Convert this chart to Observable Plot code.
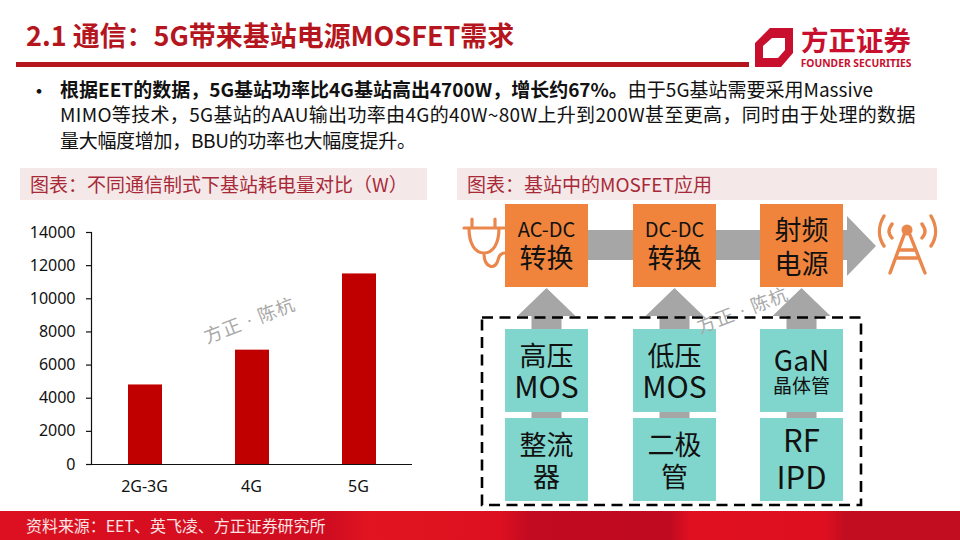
<!DOCTYPE html>
<html><head><meta charset="utf-8">
<script src="https://cdn.jsdelivr.net/npm/d3@7"></script>
<script src="https://cdn.jsdelivr.net/npm/@observablehq/plot@0.6"></script>
<style>
html,body{margin:0;padding:0;background:#fff}
#slide{position:relative;width:960px;height:540px;overflow:hidden;background:#fff;font-family:"Noto Sans CJK SC","Noto Sans",sans-serif;color:#111}
.abs{position:absolute;white-space:nowrap}
.title{left:26px;top:17px;font-size:27px;font-weight:700;color:#B5161E;line-height:36px;letter-spacing:-.03px}
.rule{left:16px;top:62px;width:733px;height:5px;background:#B5161E}
.line{left:60px;font-size:19px;line-height:24px;color:#111}
.bullet{left:28px;top:77px;font-size:22px;line-height:24px}
.hdr{top:168px;height:32px;background:#F5E8E8;color:#A82A38;font-size:19px;line-height:32px;padding-left:10px;box-sizing:border-box}
.box{position:absolute;width:83px;height:83px;display:flex;flex-direction:column;align-items:center;justify-content:center;color:#111;text-align:center;box-sizing:border-box}
.box span{display:block;white-space:nowrap}
.foot{left:0;top:511px;width:960px;height:29px;background:linear-gradient(90deg,#DC1020 0,#D00C20 330px,#E21420 370px,#DC1020 500px,#C20A20 530px,#C00A20 670px,#E01020 690px,#DE1020 825px,#C20C20 845px,#C20C20 1000px)}
.foottext{left:26px;top:511px;line-height:29px;font-size:16px;color:#FBE3E3;letter-spacing:-.05px}
.wm{color:#a9a9a9;font-size:18.5px;transform:rotate(-21deg);font-family:"Liberation Serif","Noto Sans CJK SC",serif;letter-spacing:1px}
#chart{position:absolute;left:1px;top:215px}
svg{display:block}
</style></head>
<body>
<div id="slide">
  <div class="abs title">2.1 通信：5G带来基站电源MOSFET需求</div>
  <div class="abs rule"></div>
  <svg class="abs" style="left:750px;top:15px" width="180" height="60" viewBox="750 15 180 60">
    <path fill="#C8102E" fill-rule="evenodd" d="M770 28H793V53L781 67H755V43ZM772 38L763 46V58H778L785 50V38Z"/>
    <text x="856" y="51" text-anchor="middle" font-size="27.5" font-weight="700" fill="#C8102E" font-family="Noto Sans CJK SC">方正证券</text>
    <text x="856" y="67" text-anchor="middle" font-size="10.3" font-weight="700" fill="#C8102E" font-family="Noto Sans">FOUNDER SECURITIES</text>
  </svg>
  <div class="abs bullet">•</div>
  <div class="abs line" style="top:77px;letter-spacing:0"><b>根据EET的数据，5G基站功率比4G基站高出4700W，增长约67%。</b>由于5G基站需要采用Massive</div>
  <div class="abs line" style="top:102px;letter-spacing:.33px">MIMO等技术，5G基站的AAU输出功率由4G的40W~80W上升到200W甚至更高，同时由于处理的数据</div>
  <div class="abs line" style="top:128px;letter-spacing:-.3px">量大幅度增加，BBU的功率也大幅度提升。</div>
  <div class="abs hdr" style="left:20px;width:407px">图表：不同通信制式下基站耗电量对比（W）</div>
  <div class="abs hdr" style="left:457px;width:480px">图表：基站中的MOSFET应用</div>
  <div id="chart"></div>
  <svg class="abs" id="flow" style="left:0;top:0" width="960" height="540" viewBox="0 0 960 540"></svg>
  <div id="boxes"></div>
  <div class="abs wm" style="left:201px;top:306px">方正 · 陈杭</div>
  <div class="abs wm" style="left:694px;top:296px">方正 · 陈杭</div>
  <div class="abs foot"></div>
  <div class="abs foottext">资料来源：EET、英飞凌、方正证券研究所</div>
</div>
<script>
const categories = ["2G-3G", "4G", "5G"];
const powerW = [4800, 6900, 11500];
const yTicks = [0, 2000, 4000, 6000, 8000, 10000, 12000, 14000];
const converters = [["AC-DC", "转换"], ["DC-DC", "转换"], ["射频", "电源"]];
const devices = [["高压", "MOS"], ["低压", "MOS"], ["GaN", "晶体管"]];
const parts = [["整流", "器"], ["二极", "管"], ["RF", "IPD"]];

const rows = categories.map((c, i) => ({category: c, value: powerW[i]}));
const chart = Plot.plot({
  width: 430, height: 285,
  marginLeft: 90, marginRight: 19, marginTop: 17, marginBottom: 36,
  style: {fontFamily: '"Noto Sans","Noto Sans CJK SC",sans-serif', fontSize: "16px", color: "#111", background: "transparent"},
  x: {domain: categories, paddingInner: 0.68, paddingOuter: 0.34, label: null},
  y: {domain: [0, 14000], label: null},
  marks: [
    Plot.barY(rows, {x: "category", y: "value", fill: "#C00000", dx: 1}),
    Plot.frame({anchor: "left", stroke: "#111", strokeWidth: 1.2}),
    Plot.ruleY([0], {stroke: "#111", strokeWidth: 1.2}),
    Plot.axisY({ticks: yTicks, tickSize: 5, tickPadding: 11, stroke: "#111", strokeWidth: 1.2, label: null, tickFormat: d => String(d), fill: "#111"}),
    Plot.axisX({tickSize: 0, tickPadding: 16, label: null, fill: "#111"})
  ]
});
document.getElementById("chart").append(chart);

// process diagram
const colX = [505, 633, 760];
const boxW = 83;
const flow = d3.select("#flow");
const gray = "#A6A6A6";
const orange = "#F0843C";
const iconOrange = "#E9874C";
flow.append("path").attr("fill", gray).attr("d", "M588 230H847V216L876 246L847 276V260H588Z");
colX.forEach(x => {
  const c = x + boxW / 2;
  flow.append("path").attr("fill", gray)
    .attr("d", `M${c-15} 418V316H${c-29}L${c} 288L${c+29} 316H${c+15}V418Z`);
});
flow.append("rect").attr("x", 482).attr("y", 317.5).attr("width", 379).attr("height", 187.5)
  .attr("fill", "none").attr("stroke", "#000").attr("stroke-width", 2.6).attr("stroke-dasharray", "11 6.5");
// plug icon
flow.append("path").attr("fill", "none").attr("stroke", iconOrange).attr("stroke-width", 3.2).attr("stroke-linecap", "round")
  .attr("d", "M464 228H505M472 219V228M495 219V228M469 228C469 244 475 253 484 253C493 253 499 244 499 228M484 253C484 269 496 270 498 260C499 255 502 253 505 253");
// antenna icon
flow.append("path").attr("fill", "none").attr("stroke", iconOrange).attr("stroke-width", 3.4).attr("stroke-linecap", "round")
  .attr("d", "M904 235L890 273M910 235L925 273M900 250H914M897 258H918M884 216C878 226 878 237 884 246M892 224C888 230 888 233 892 238M931 216C937 226 937 237 931 246M922 224C926 230 926 233 922 238");
flow.append("circle").attr("cx", 907).attr("cy", 230).attr("r", 5.5).attr("fill", iconOrange);

function lineSize(t) {
  if (t === "AC-DC" || t === "DC-DC") return 20;
  if (t === "晶体管") return 19;
  if (t === "MOS") return 30;
  if (t === "GaN") return 28;
  if (t === "RF" || t === "IPD") return 31;
  return 27;
}
function lineGap(t) {
  if (t === "AC-DC" || t === "DC-DC") return 26;
  if (t === "射频" || t === "电源") return 34;
  if (t === "RF" || t === "IPD") return 37;
  if (t === "整流" || t === "二极" || t === "器" || t === "管") return 32;
  return Math.round(lineSize(t) * 1.08);
}
function liftFor(lines) {
  if (lines[1] === "转换") return "5px";
  if (lines[0] === "RF") return "6px";
  if (lines[0] === "GaN") return "3px";
  return "0";
}
const host = document.getElementById("boxes");
function addBoxes(labels, top, bg) {
  labels.forEach((lines, i) => {
    const b = document.createElement("div");
    b.className = "box";
    b.style.left = colX[i] + "px";
    b.style.top = top + "px";
    b.style.background = bg;
    b.style.paddingBottom = liftFor(lines);
    lines.forEach(t => {
      const s = document.createElement("span");
      s.textContent = t;
      s.style.fontSize = lineSize(t) + "px";
      s.style.lineHeight = lineGap(t) + "px";
      b.append(s);
    });
    host.append(b);
  });
}
addBoxes(converters, 204, orange);
addBoxes(devices, 329, "#80D6CC");
addBoxes(parts, 418, "#80D6CC");
</script>
</body></html>
